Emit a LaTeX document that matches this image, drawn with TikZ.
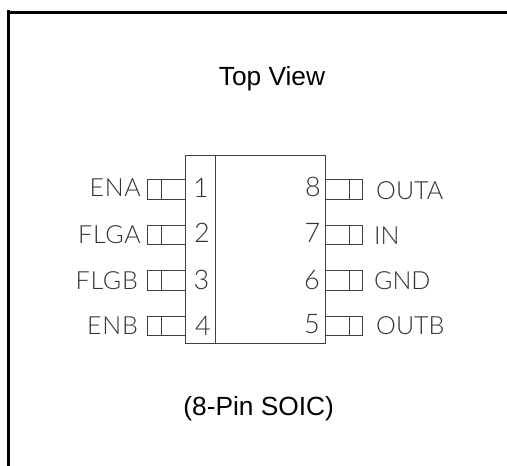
\documentclass[tikz,border=0pt]{standalone}
\usepackage{fontspec}
\setmainfont{Liberation Sans}
\newfontfamily\cad{Lato Light}
\newfontfamily\cadw[LetterSpace=3]{Lato Light}
\tikzset{
  x=1pt,y=-1pt,
  outline/.style={line width=3pt,black},
  part/.style={line width=0.9pt,draw=black!75},
  title/.style={inner sep=0pt,font=\fontsize{26.3}{30}\selectfont,anchor=base},
  pinlabel/.style={inner sep=0pt,text=black!80,font=\cadw\fontsize{25}{30}\selectfont,anchor=base east},
  pinlabelr/.style={inner sep=0pt,text=black!80,font=\cad\fontsize{25}{30}\selectfont,anchor=base west},
  pinnum/.style={inner sep=0pt,text=black!80,font=\cad\fontsize{27}{30}\selectfont,anchor=base},
}
\begin{document}
\begin{tikzpicture}
\useasboundingbox (0,0) rectangle (507,466);
\fill[white] (0,0) rectangle (507,466);
\draw[outline] (8.5,10) -- (8.5,466);
\draw[outline] (8.5,12.5) -- (507,12.5);
% package
\draw[part] (185.7,155.7) rectangle (325,343.3);
\draw[part] (215.7,155.7) -- (215.7,343.3);
% pins
\foreach \ya/\yb in {179.3/199,225/244.3,270.7/290,316/335.7}{
  \draw[part] (185.7,\ya) -- (147.7,\ya) -- (147.7,\yb) -- (185.7,\yb);
  \draw[part] (161,\ya) -- (161,\yb);
  \draw[part] (325,\ya) -- (362.3,\ya) -- (362.3,\yb) -- (325,\yb);
  \draw[part] (349,\ya) -- (349,\yb);
}
\node[title] (top) at (272,85.5) {Top View};
\node[title] (soic) at (258.7,415.5) {(8-Pin SOIC)};
\node[pinlabel] (ena) at (141,196.5) {ENA};
\node[pinlabel] (flga) at (141,243) {FLGA};
\node[pinlabel] (flgb) at (138,289) {FLGB};
\node[pinlabel] (enb) at (138,334) {ENB};
\node[pinlabelr] (outa) at (376,199) {OUTA};
\node[pinlabelr] (in) at (374,244) {IN};
\node[pinlabelr] (gnd) at (374,289) {GND};
\node[pinlabelr] (outb) at (376,334) {OUTB};
\node[pinnum] (p1) at (201,197) {1};
\node[pinnum] (p2) at (202,242) {2};
\node[pinnum] (p3) at (201.5,289) {3};
\node[pinnum] (p4) at (203,335) {4};
\node[pinnum] (p8) at (313,196.5) {8};
\node[pinnum] (p7) at (312.5,242) {7};
\node[pinnum] (p6) at (312,289) {6};
\node[pinnum] (p5) at (312,333) {5};
\end{tikzpicture}
\end{document}
